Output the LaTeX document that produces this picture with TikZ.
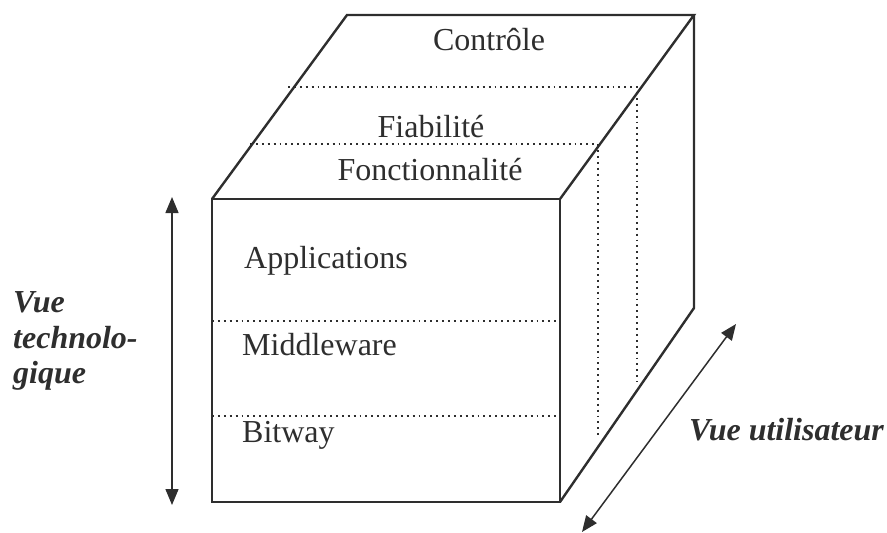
\documentclass[tikz,border=0pt]{standalone}
\usepackage{fontspec}
\setmainfont{Liberation Serif}
\usetikzlibrary{arrows.meta}
\definecolor{ink}{HTML}{2E2E2E}
\begin{document}
\begin{tikzpicture}[x=1pt,y=-1pt,
  solid edge/.style={draw=ink,line width=2.4pt,line join=miter},
  dotline/.style={draw=ink,line width=1.9pt,dash pattern=on 1.9pt off 4pt},
  dblarrow/.style={draw=ink,line width=1.5pt,{Triangle[length=16pt,width=13pt]}-{Triangle[length=16pt,width=13pt]}},
  lbl/.style={inner sep=0pt,text=ink,font=\fontsize{32}{36}\selectfont},
  view/.style={inner sep=0pt,text=ink,font=\fontsize{32}{36}\selectfont\bfseries\itshape}]
\useasboundingbox (0,0) rectangle (887,533);
% cube corners
\coordinate (ftl) at (212,199);
\coordinate (ftr) at (560,199);
\coordinate (fbl) at (212,502);
\coordinate (fbr) at (560,502);
\coordinate (btl) at (347,15);
\coordinate (btr) at (694,15);
\coordinate (bbr) at (694,308);
% dotted layer lines
\coordinate (d1a) at (288,87);
\coordinate (d1b) at (637,87);
\coordinate (d1c) at (637,382);
\coordinate (d2a) at (250,144);
\coordinate (d2b) at (598,144);
\coordinate (d2c) at (598,438);
\coordinate (m1a) at (212,321);
\coordinate (m1b) at (557,321);
\coordinate (m2a) at (212,416);
\coordinate (m2b) at (557,416);
\draw[dotline] (d1a) -- (d1b) -- (d1c);
\draw[dotline] (d2a) -- (d2b) -- (d2c);
\draw[dotline] (m1a) -- (m1b);
\draw[dotline] (m2a) -- (m2b);
% solid cube edges
\draw[solid edge] (ftl) rectangle (fbr);
\draw[solid edge] (ftl) -- (btl) -- (btr) -- (ftr);
\draw[solid edge] (btr) -- (bbr) -- (fbr);
% arrows
\coordinate (lt) at (172,197);
\coordinate (lb) at (172,505);
\draw[dblarrow] (lt) -- (lb);
\coordinate (ra) at (582,532);
\coordinate (rb) at (736,324);
\draw[dblarrow] (ra) -- (rb);
% labels
\node[lbl,anchor=base] (controle) at (489,50) {Contrôle};
\node[lbl,anchor=base] (fiab) at (431,137) {Fiabilité};
\node[lbl,anchor=base] (fonc) at (430,180) {Fonctionnalité};
\node[lbl,anchor=base west] (appl) at (244,268) {Applications};
\node[lbl,anchor=base west] (midd) at (242,355) {Middleware};
\node[lbl,anchor=base west] (bitw) at (242,442) {Bitway};
\node[view,anchor=base west] (vt1) at (13,312) {Vue};
\node[view,anchor=base west] (vt2) at (13,348) {technolo-};
\node[view,anchor=base west] (vt3) at (13,383) {gique};
\node[view,anchor=base west] (vu) at (689,440) {Vue utilisateur};
\end{tikzpicture}
\end{document}
